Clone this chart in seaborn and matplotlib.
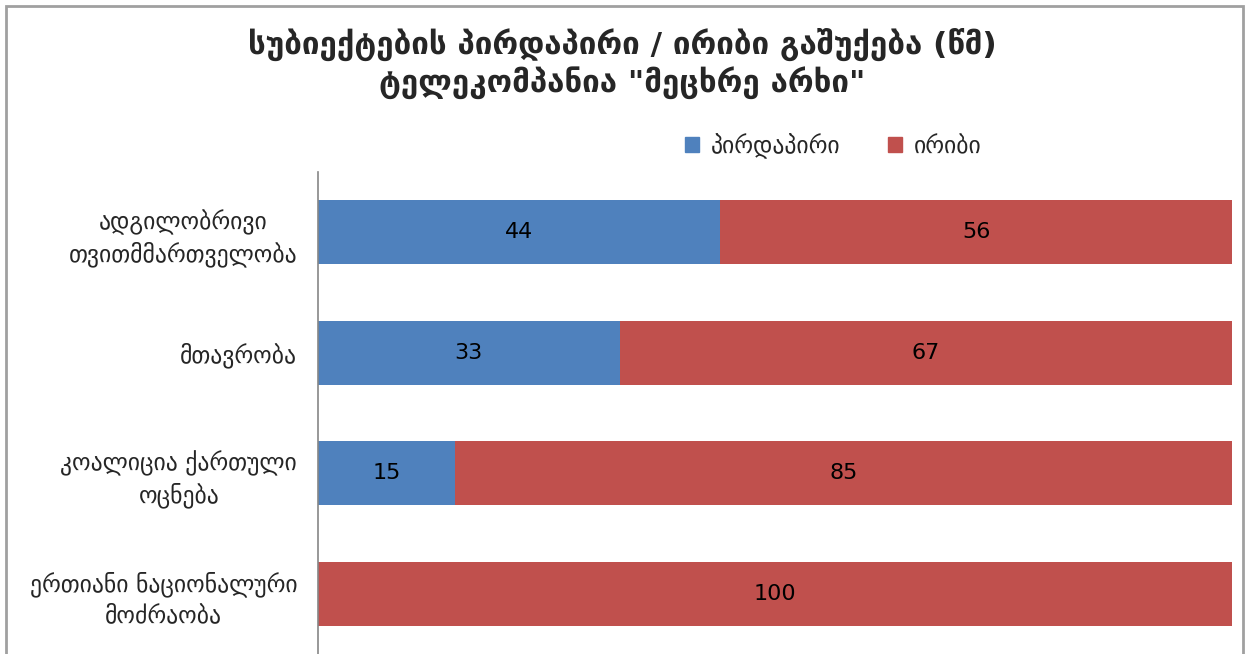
import matplotlib
matplotlib.use('Agg')
import matplotlib.pyplot as plt
import seaborn as sns
import pandas as pd
from matplotlib.patches import Rectangle, Patch

# data
subjects = ['ადგილობრივი\nთვითმმართველობა', 'მთავრობა',
            'კოალიცია ქართული\nოცნება', 'ერთიანი ნაციონალური\nმოძრაობა']
direct = [44, 33, 15, 0]
indirect = [56, 67, 85, 100]
series_names = ['პირდაპირი', 'ირიბი']
title = 'სუბიექტების პირდაპირი / ირიბი გაშუქება (წმ)\nტელეკომპანია "მეცხრე არხი"'

blue = '#4F81BD'
red = '#C0504D'

sns.set_style('white')
plt.rcParams['font.family'] = ['DejaVu Sans']

df = pd.DataFrame({'subject': subjects, 'direct': direct, 'indirect': indirect})
df['total'] = df['direct'] + df['indirect']

fig = plt.figure(figsize=(12.47, 6.54), dpi=100)
ax = fig.add_axes([318 / 1247, 0.0, (1232 - 318) / 1247, 1 - 172 / 654])

# stacked: total in red, direct in blue on top
sns.barplot(data=df, y='subject', x='total', color=red, orient='h', width=0.53,
            ax=ax, saturation=1, linewidth=0)
sns.barplot(data=df, y='subject', x='direct', color=blue, orient='h', width=0.53,
            ax=ax, saturation=1, linewidth=0)

for i, (d, ind) in enumerate(zip(direct, indirect)):
    if d > 0:
        ax.text(d / 2, i, str(d), ha='center', va='center', fontsize=16, color='black')
    if ind > 0:
        ax.text(d + ind / 2, i, str(ind), ha='center', va='center', fontsize=16, color='black')

ax.set_xlim(0, 100)
ax.set_ylim(3.5, -0.5)
ax.set_xlabel('')
ax.set_ylabel('')
ax.set_xticks([])
ax.tick_params(axis='y', length=0, pad=15, labelsize=17)
for lab in ax.get_yticklabels():
    lab.set_multialignment('center')
    lab.set_linespacing(1.3)
for s in ['top', 'right', 'bottom']:
    ax.spines[s].set_visible(False)
ax.spines['left'].set_color('#868686')
ax.spines['left'].set_linewidth(1.2)

handles = [Patch(color=blue, label=series_names[0]), Patch(color=red, label=series_names[1])]
fig.legend(handles=handles, loc='center', bbox_to_anchor=(833 / 1247, 1 - 146 / 654),
           ncol=2, frameon=False, fontsize=17, handlelength=0.6, handleheight=0.6,
           columnspacing=2.0, handletextpad=0.5)

fig.text(0.499, 1 - 63 / 654, title, ha='center', va='center', fontsize=22.5,
         fontweight='bold', linespacing=1.2)

# outer chart border
fig.patches.append(Rectangle((6 / 1247, -0.05), (1243 - 6) / 1247, 1.05 - 6 / 654,
                             transform=fig.transFigure, fill=False,
                             edgecolor='#a0a0a0', linewidth=2))

fig.savefig('out.png', dpi=100)
